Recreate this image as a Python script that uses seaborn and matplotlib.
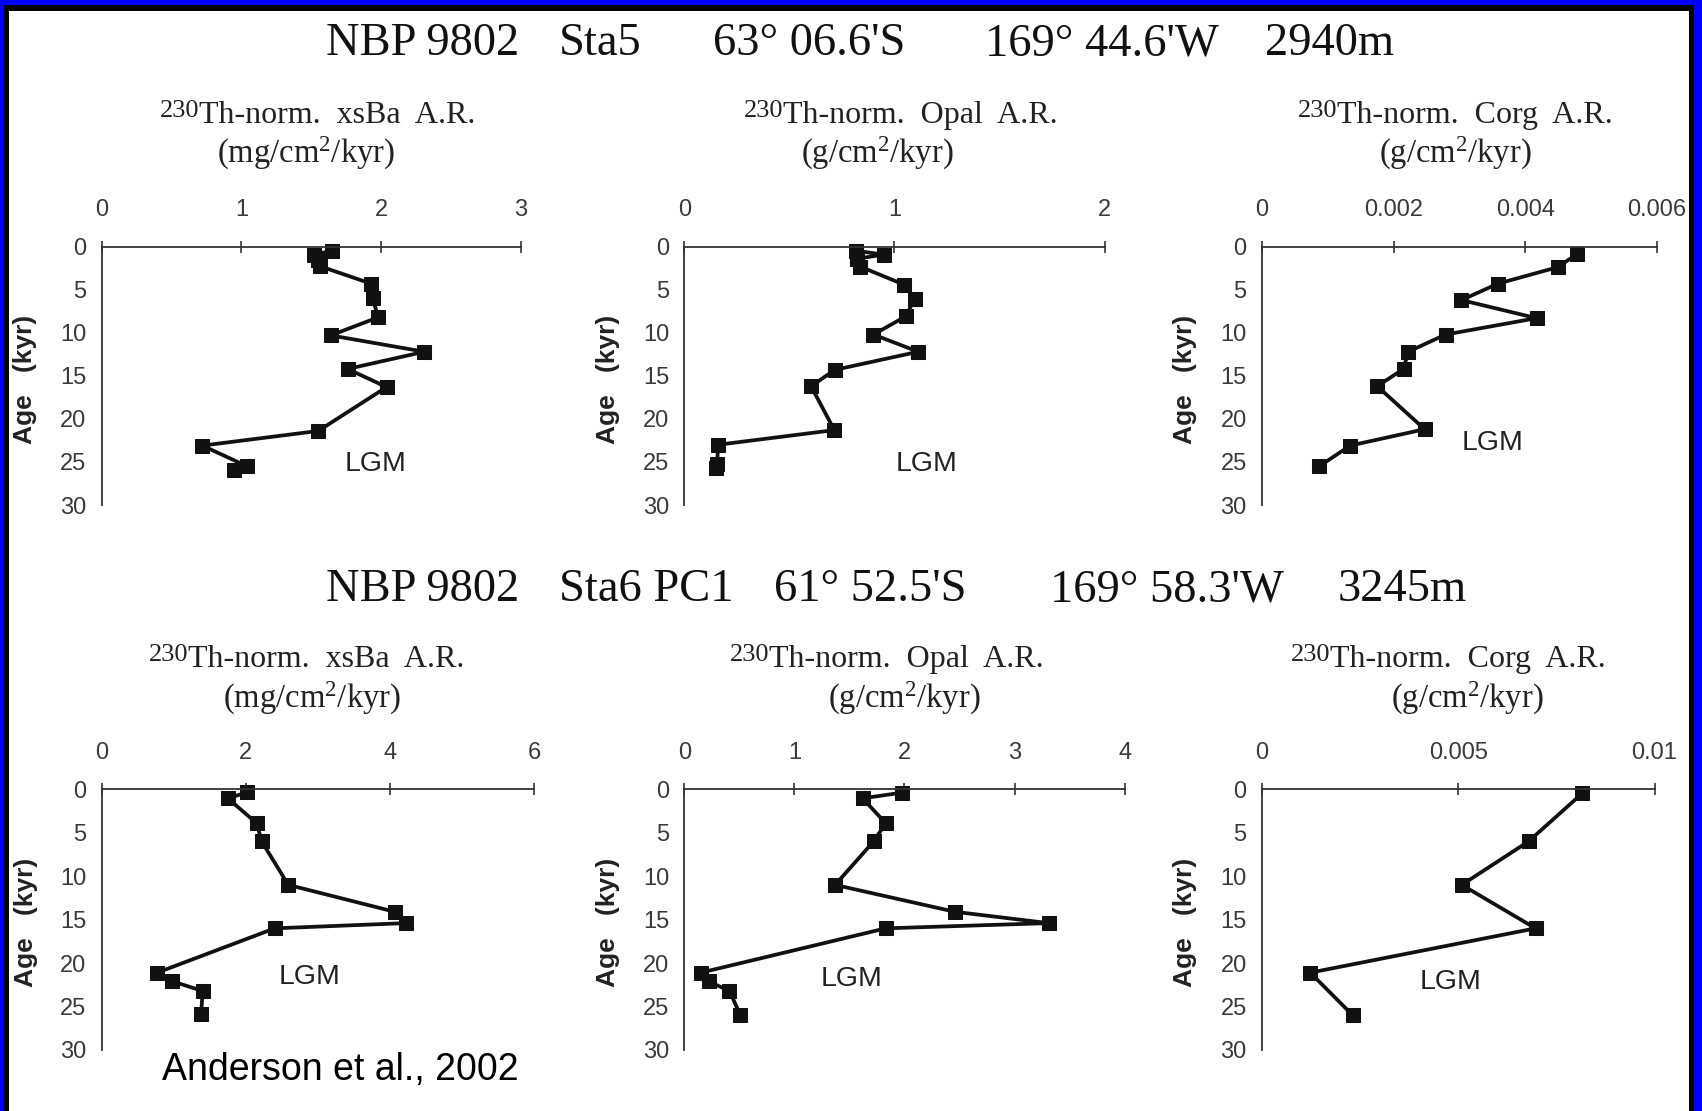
import matplotlib
matplotlib.use("Agg")
import matplotlib.pyplot as plt
import seaborn as sns
import pandas as pd
from matplotlib.patches import Rectangle

# ---------------- data ----------------
# Station 5 (NBP 9802 Sta5)
sta5_ba_age = [0.45, 0.95, 1.55, 2.25, 4.3, 6.0, 8.2, 10.3, 12.2, 14.2, 16.3, 21.4, 23.1, 25.5, 25.9]
sta5_ba = [1.65, 1.52, 1.55, 1.56, 1.93, 1.94, 1.98, 1.64, 2.31, 1.76, 2.04, 1.55, 0.72, 1.04, 0.95]

sta5_opal_age = [0.46, 0.92, 1.4, 2.3, 4.4, 6.1, 8.1, 10.2, 12.2, 14.3, 16.2, 21.3, 23.0, 25.2, 25.7]
sta5_opal = [0.816, 0.948, 0.82, 0.836, 1.045, 1.096, 1.053, 0.90, 1.113, 0.717, 0.603, 0.714, 0.161, 0.156, 0.153]

sta5_corg_age = [0.84, 2.38, 4.3, 6.2, 8.3, 10.2, 12.2, 14.2, 16.2, 21.2, 23.1, 25.5]
sta5_corg = [0.00479, 0.00449, 0.00358, 0.00303, 0.00417, 0.00279, 0.00222, 0.00215, 0.00175, 0.00247, 0.00134, 0.00087]

# Station 6 (NBP 9802 Sta6 PC1)
sta6_ba_age = [0.35, 1.04, 3.9, 6.0, 11.0, 14.1, 15.4, 16.0, 21.1, 22.1, 23.2, 25.9]
sta6_ba = [2.02, 1.75, 2.15, 2.22, 2.59, 4.07, 4.22, 2.40, 0.77, 0.98, 1.40, 1.38]

sta6_opal_age = [0.38, 1.04, 3.9, 6.0, 11.0, 14.1, 15.4, 16.0, 21.1, 22.1, 23.2, 26.0]
sta6_opal = [1.98, 1.62, 1.83, 1.72, 1.37, 2.46, 3.31, 1.83, 0.15, 0.22, 0.41, 0.51]

sta6_corg_age = [0.46, 6.0, 11.0, 16.0, 21.1, 26.0]
sta6_corg = [0.00816, 0.00679, 0.00509, 0.00697, 0.00123, 0.00231]

age_ticks = [0, 5, 10, 15, 20, 25, 30]
ba5_ticks = [0, 1, 2, 3]
opal5_ticks = [0, 1, 2]
corg5_ticks = [0, 0.002, 0.004, 0.006]
corg5_labels = ["0", "0.002", "0.004", "0.006"]
ba6_ticks = [0, 2, 4, 6]
opal6_ticks = [0, 1, 2, 3, 4]
corg6_ticks = [0, 0.005, 0.01]
corg6_labels = ["0", "0.005", "0.01"]

title5 = ["NBP 9802", "Sta5", "63° 06.6'S", "169° 44.6'W", "2940m"]
title6 = ["NBP 9802", "Sta6 PC1", "61° 52.5'S", "169° 58.3'W", "3245m"]
iso = "230"
ptitle_ba = "Th-norm.  xsBa  A.R."
ptitle_opal = "Th-norm.  Opal  A.R."
ptitle_corg = "Th-norm.  Corg  A.R."
unit_ba = r"(mg/cm$^{2}$/kyr)"
unit_g = r"(g/cm$^{2}$/kyr)"
ylabel = "Age   (kyr)"
lgm = "LGM"
credit = "Anderson et al., 2002"

# ---------------- figure ----------------
sns.set_theme(style="white")
plt.rcParams["font.family"] = ["Liberation Sans", "DejaVu Sans"]
plt.rcParams["mathtext.fontset"] = "custom"
plt.rcParams["mathtext.rm"] = "Liberation Serif"
plt.rcParams["mathtext.it"] = "Liberation Serif:italic"
plt.rcParams["mathtext.bf"] = "Liberation Serif:bold"

W, H = 1702, 1111
fig = plt.figure(figsize=(W / 100, H / 100), dpi=100)
fig.patch.set_facecolor("white")


def fx(x):
    return x / W


def fy(y):
    return 1 - y / H


def rect(x0, x1, y0, y30):
    return [fx(x0), fy(y30), (x1 - x0) / W, (y30 - y0) / H]


panels = [
    (rect(101.8, 520.7, 246.7, 505.0), sta5_ba, sta5_ba_age, 3, ba5_ticks, [str(t) for t in ba5_ticks], (376, 464), 37),
    (rect(684.3, 1104.6, 246.7, 505.0), sta5_opal, sta5_opal_age, 2, opal5_ticks, [str(t) for t in opal5_ticks], (927, 464), 620),
    (rect(1262.0, 1657.0, 246.7, 505.0), sta5_corg, sta5_corg_age, 0.006, corg5_ticks, corg5_labels, (1493, 443), 1197),
    (rect(101.8, 533.9, 789.3, 1050.0), sta6_ba, sta6_ba_age, 6, ba6_ticks, [str(t) for t in ba6_ticks], (310, 977), 38),
    (rect(684.3, 1124.6, 789.3, 1050.0), sta6_opal, sta6_opal_age, 4, opal6_ticks, [str(t) for t in opal6_ticks], (852, 979), 620),
    (rect(1262.0, 1654.5, 789.3, 1050.0), sta6_corg, sta6_corg_age, 0.01, corg6_ticks, corg6_labels, (1451, 982), 1197),
]

axis_col = "#333333"
tick_col = "#3a3a3a"

for pos, vals, ages, xmax, xt, xtl, lgm_pos, ylab_x in panels:
    ax = fig.add_axes(pos)
    df = pd.DataFrame({"value": vals, "age": ages})
    sns.lineplot(data=df, x="value", y="age", sort=False, estimator=None, ax=ax,
                 color="#111111", linewidth=2.7, marker="s", markersize=10.5,
                 markeredgecolor="#111111", markerfacecolor="#111111", clip_on=False)
    ax.set_xlim(0, xmax)
    ax.set_ylim(30, 0)
    for s in ["bottom", "right"]:
        ax.spines[s].set_visible(False)
    for s in ["top", "left"]:
        ax.spines[s].set_color(axis_col)
        ax.spines[s].set_linewidth(1.3)
    ax.xaxis.set_ticks_position("top")
    ax.xaxis.set_label_position("top")
    ax.set_xticks(xt)
    ax.set_xticklabels(xtl)
    ax.set_yticks(age_ticks)
    ax.set_yticklabels([str(t) for t in age_ticks])
    ax.tick_params(axis="x", direction="inout", length=9, width=1.2, pad=14,
                   labelsize=17, colors=axis_col, labelcolor=tick_col)
    ax.tick_params(axis="y", direction="out", length=5, width=1.2, pad=6,
                   labelsize=17, colors=axis_col, labelcolor=tick_col)
    ax.set_xlabel("")
    ax.set_ylabel(ylabel, fontsize=19, fontweight="bold", color="#222222")
    ax_left_px = pos[0] * W
    ax_w_px = pos[2] * W
    ax.yaxis.set_label_coords((ylab_x - ax_left_px) / ax_w_px, 0.488)
    ax.set_facecolor("none")
    ax.grid(False)
    ax.text(fx(lgm_pos[0]), fy(lgm_pos[1]), lgm, transform=fig.transFigure,
            ha="center", va="center", fontsize=20.5, color="#222222")

# station titles
serif = ["Liberation Serif", "DejaVu Serif"]
for txt, x in zip(title5, [326, 559, 713, 985, 1265]):
    fig.text(fx(x), fy(55), txt, ha="left", va="baseline", fontsize=33.5, family=serif, color="#111111")
for txt, x in zip(title6, [326, 559, 774, 1050, 1338]):
    fig.text(fx(x), fy(601), txt, ha="left", va="baseline", fontsize=33.5, family=serif, color="#111111")

# panel titles: (main title, left x, baseline y, unit line, center x, center y)
ptitles = [
    (ptitle_ba, 141, 123, unit_ba, 306, 153),
    (ptitle_opal, 725, 123, unit_g, 877, 153),
    (ptitle_corg, 1279, 123, unit_g, 1455, 153),
    (ptitle_ba, 130, 667, unit_ba, 312, 698),
    (ptitle_opal, 711, 667, unit_g, 904, 698),
    (ptitle_corg, 1272, 667, unit_g, 1467, 698),
]
for t1, x1, y1, t2, x2, y2 in ptitles:
    fig.text(fx(x1 + 58), fy(y1 - 6), iso, ha="right", va="baseline", fontsize=19, family=serif, color="#222222")
    fig.text(fx(x1 + 58), fy(y1), t1, ha="left", va="baseline", fontsize=23, family=serif, color="#222222")
    fig.text(fx(x2), fy(y2), t2, ha="center", va="center", fontsize=23.5, family=serif, color="#222222")

fig.text(fx(340), fy(1070), credit, ha="center", va="center", fontsize=27, color="black")

# frame: blue outer, black inner
frame = [
    (0, 0, 4, H, "#0000ff"), (0, 0, W, 5, "#0000ff"), (1694, 0, 8, H, "#0000ff"),
    (4, 5, 5, H, "black"), (4, 5, 1690, 6, "black"), (1689, 5, 5, H, "black"),
]
for x, y, w, h, c in frame:
    fig.patches.append(Rectangle((fx(x), fy(y + h)), w / W, h / H, transform=fig.transFigure,
                                 facecolor=c, edgecolor="none", zorder=10))

fig.savefig("out.png", dpi=100, facecolor="white")
